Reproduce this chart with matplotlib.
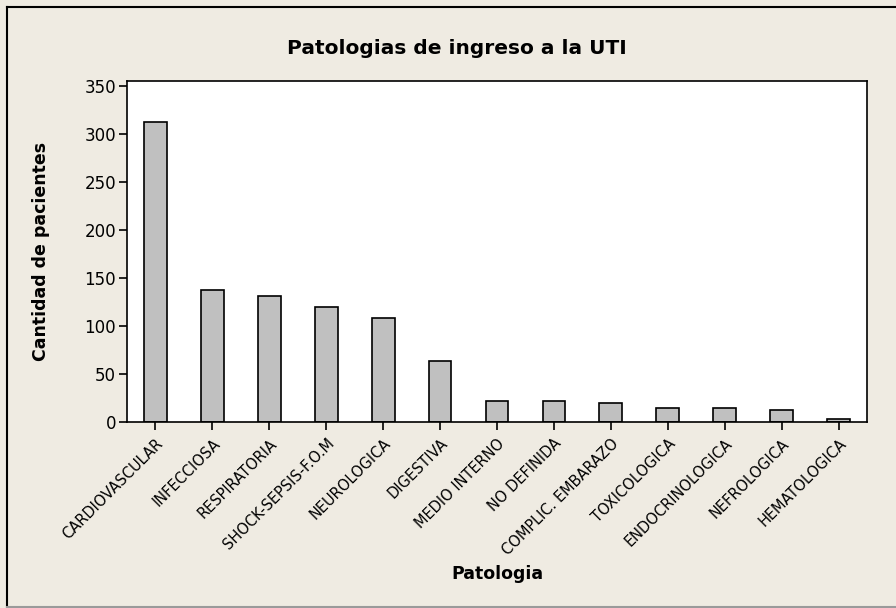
#!/usr/bin/env python3

import matplotlib
matplotlib.use('Agg')
import matplotlib.pyplot as plt
from matplotlib.patches import Rectangle
import numpy as np

# data
categorias = ['CARDIOVASCULAR', 'INFECCIOSA', 'RESPIRATORIA', 'SHOCK-SEPSIS-F.O.M',
              'NEUROLOGICA', 'DIGESTIVA', 'MEDIO INTERNO', 'NO DEFINIDA',
              'COMPLIC. EMBARAZO', 'TOXICOLOGICA', 'ENDOCRINOLOGICA',
              'NEFROLOGICA', 'HEMATOLOGICA']
pacientes = [313, 138, 131, 120, 108, 64, 22, 22, 20, 15, 15, 12, 3]
yticks = [0, 50, 100, 150, 200, 250, 300, 350]

bg = '#EFEBE2'


def main():
    plt.rcParams['font.family'] = 'DejaVu Sans'
    fig = plt.figure(figsize=(8.96, 6.08), dpi=100, facecolor=bg)

    # outer frame: black top/left, grey bottom, open on the right
    fig.add_artist(plt.Line2D([7 / 896, 7 / 896], [1 / 608, 1 - 7 / 608],
                              transform=fig.transFigure, color='black', lw=1.5))
    fig.add_artist(plt.Line2D([7 / 896, 1], [1 - 7 / 608, 1 - 7 / 608],
                              transform=fig.transFigure, color='black', lw=1.5))
    fig.add_artist(plt.Line2D([7 / 896, 1], [1 / 608, 1 / 608],
                              transform=fig.transFigure, color='#9A9A9A', lw=1.5))

    ax = fig.add_axes([127 / 896, (608 - 422) / 608, 740 / 896, 341 / 608])
    ax.set_facecolor('white')

    x = np.arange(len(categorias))
    ax.bar(x, pacientes, width=0.4, color='#C0C0C0', edgecolor='black',
           linewidth=1.2, zorder=2)

    ax.set_xlim(-0.5, len(categorias) - 0.5)
    ax.set_ylim(0, 355.5)
    ax.set_yticks(yticks)
    ax.set_xticks(x)
    ax.set_xticklabels(categorias, rotation=45, ha='right',
                       rotation_mode='anchor', fontsize=10.5)
    ax.tick_params(axis='y', labelsize=12, length=6, width=1.2, pad=2)
    ax.tick_params(axis='x', length=6, width=1.2, pad=4)
    for s in ax.spines.values():
        s.set_linewidth(1.2)

    ax.set_ylabel('Cantidad de pacientes', fontsize=12.5, fontweight='bold')
    ax.yaxis.set_label_coords(-0.104, 0.5)
    fig.text(497 / 896, 1 - 574 / 608, 'Patologia', fontsize=12.5,
             fontweight='bold', ha='center', va='center')
    fig.text(457 / 896, 1 - 49 / 608, 'Patologias de ingreso a la UTI',
             fontsize=14.5, fontweight='bold', ha='center', va='center')

    fig.savefig('out.png', dpi=100, facecolor=bg)


if __name__ == "__main__":
    main()
